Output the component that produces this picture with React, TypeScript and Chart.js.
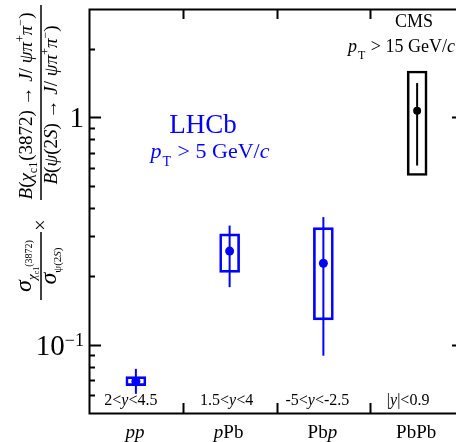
import React, { useEffect, useRef } from "react";
import { Chart, registerables } from "chart.js";

Chart.register(...registerables);

// ---------- data ----------
const categories = ["pp", "pPb", "Pbp", "PbPb"];
const rapidityLabels = ["2<y<4.5", "1.5<y<4", "-5<y<-2.5", "|y|<0.9"];
const experiments = ["LHCb", "LHCb", "LHCb", "CMS"];
const centralValues = [0.069, 0.258, 0.228, 1.07];
const statLow = [0.0607, 0.179, 0.0894, 0.614];
const statHigh = [0.0782, 0.334, 0.364, 1.416];
const systLow = [0.066, 0.208, 0.1285, 0.555];
const systHigh = [0.0723, 0.307, 0.327, 1.6];
const yMajorTicks = [0.1, 1];
const yMinorTicks = [0.06, 0.07, 0.08, 0.09, 0.2, 0.3, 0.4, 0.5, 0.6, 0.7, 0.8, 0.9, 2];
const yMin = 0.05;
const yMax = 3;

// ---------- style ----------
const FONT = '"Liberation Serif", "Times New Roman", serif';
const BLUE = "#0000ff";
const BLACK = "#000000";
const colorFor = (i: number) => (experiments[i] === "CMS" ? BLACK : BLUE);

type Seg = { t: string; size: number; it?: boolean; dy?: number; dx?: number };

function segFont(s: Seg) {
  return `${s.it ? "italic " : ""}${s.size}px ${FONT}`;
}
function measureSegs(ctx: CanvasRenderingContext2D, segs: Seg[]) {
  let w = 0;
  for (const s of segs) {
    ctx.font = segFont(s);
    w += ctx.measureText(s.t).width + (s.dx || 0);
  }
  return w;
}
function drawSegs(ctx: CanvasRenderingContext2D, segs: Seg[], x: number, y: number, align: "left" | "center" | "right" = "left") {
  const w = measureSegs(ctx, segs);
  let cx = align === "left" ? x : align === "center" ? x - w / 2 : x - w;
  ctx.textAlign = "left";
  ctx.textBaseline = "alphabetic";
  for (const s of segs) {
    ctx.font = segFont(s);
    cx += s.dx || 0;
    ctx.fillText(s.t, cx, y + (s.dy || 0));
    cx += ctx.measureText(s.t).width;
  }
  return w;
}

function italicY(label: string, size: number): Seg[] {
  const parts = label.split("y");
  const segs: Seg[] = [];
  parts.forEach((p, i) => {
    if (p) segs.push({ t: p, size });
    if (i < parts.length - 1) segs.push({ t: "y", size, it: true });
  });
  return segs;
}
function categorySegs(label: string, size: number): Seg[] {
  return label
    .split(/(Pb|p)/)
    .filter((p) => p)
    .map((p) => ({ t: p, size, it: p === "p" }));
}

const framePlugin = {
  id: "rootFrame",
  afterDraw(chart: any) {
    const ctx: CanvasRenderingContext2D = chart.ctx;
    const { left, right, top, bottom } = chart.chartArea;
    const ys = chart.scales.y;
    const xs = chart.scales.x;
    ctx.save();
    ctx.strokeStyle = BLACK;
    ctx.fillStyle = BLACK;
    ctx.lineWidth = 2;
    ctx.strokeRect(left + 0.5, top + 0.5, right - left, bottom - top);

    // y ticks (inward, both sides)
    const drawYTick = (v: number, len: number) => {
      const py = Math.round(ys.getPixelForValue(v)) + 0.5;
      ctx.beginPath();
      ctx.moveTo(left, py);
      ctx.lineTo(left + len, py);
      ctx.moveTo(right, py);
      ctx.lineTo(right - len, py);
      ctx.stroke();
    };
    yMajorTicks.forEach((v) => drawYTick(v, 12));
    yMinorTicks.forEach((v) => drawYTick(v, 6));

    // x ticks at category boundaries
    for (let i = 0; i < categories.length - 1; i++) {
      const px = Math.round((xs.getPixelForValue(i) + xs.getPixelForValue(i + 1)) / 2) + 0.5;
      ctx.beginPath();
      ctx.moveTo(px, top);
      ctx.lineTo(px, top + 10);
      ctx.moveTo(px, bottom);
      ctx.lineTo(px, bottom - 10);
      ctx.stroke();
    }

    // y tick labels
    const y1 = ys.getPixelForValue(1);
    drawSegs(ctx, [{ t: "1", size: 29 }], 84, y1 + 10, "right");
    const y01 = ys.getPixelForValue(0.1);
    drawSegs(
      ctx,
      [
        { t: "10", size: 29 },
        { t: "\u22121", size: 18, dy: -9 },
      ],
      84,
      y01 + 10,
      "right"
    );

    // category + rapidity labels
    categories.forEach((c, i) => {
      const px = xs.getPixelForValue(i);
      drawSegs(ctx, categorySegs(c, 19), px - 1, 438, "center");
    });
    const rapOffsets = [-5, -3, -6, -9];
    rapidityLabels.forEach((r, i) => {
      const px = xs.getPixelForValue(i);
      drawSegs(ctx, italicY(r, 16), px + rapOffsets[i], 405, "center");
    });

    // LHCb annotation
    ctx.fillStyle = BLUE;
    drawSegs(ctx, [{ t: "LHCb", size: 27 }], 203, 133, "center");
    drawSegs(
      ctx,
      [
        { t: "p", size: 22, it: true },
        { t: "T", size: 14, dy: 8, dx: 1 },
        { t: " > 5 GeV/", size: 22, dx: 1 },
        { t: "c", size: 22, it: true },
      ],
      210,
      158,
      "center"
    );

    // CMS annotation
    ctx.fillStyle = BLACK;
    drawSegs(ctx, [{ t: "CMS", size: 18 }], 414, 27, "center");
    drawSegs(
      ctx,
      [
        { t: "p", size: 18, it: true },
        { t: "T", size: 12, dy: 7, dx: 1 },
        { t: " > 15 GeV/", size: 18, dx: 1 },
        { t: "c", size: 18, it: true },
      ],
      455,
      52,
      "right"
    );

    // y-axis title (rotated)
    ctx.save();
    ctx.rotate(-Math.PI / 2);
    // in rotated frame: u = -screenY, v = screenX
    const num2: Seg[] = [
      { t: "B", size: 19, it: true },
      { t: "(", size: 19 },
      { t: "\u03c7", size: 19, it: true },
      { t: "c1", size: 12, dy: 5 },
      { t: "(3872) \u2192 ", size: 19, dx: 1 },
      { t: "J", size: 19, it: true },
      { t: "/ ", size: 19 },
      { t: "\u03c8\u03c0", size: 19, it: true },
      { t: "+", size: 12, dy: -8 },
      { t: "\u03c0", size: 19, it: true },
      { t: "\u2212", size: 12, dy: -8 },
      { t: ")", size: 19 },
    ];
    const den2: Seg[] = [
      { t: "B", size: 19, it: true },
      { t: "(", size: 19 },
      { t: "\u03c8", size: 19, it: true },
      { t: "(2", size: 19 },
      { t: "S", size: 19, it: true },
      { t: ") \u2192 ", size: 19 },
      { t: "J", size: 19, it: true },
      { t: "/ ", size: 19 },
      { t: "\u03c8\u03c0", size: 19, it: true },
      { t: "+", size: 12, dy: -8 },
      { t: "\u03c0", size: 19, it: true },
      { t: "\u2212", size: 12, dy: -8 },
      { t: ")", size: 19 },
    ];
    const c2 = -106;
    drawSegs(ctx, num2, c2, 32, "center");
    drawSegs(ctx, den2, c2 + 1, 57, "center");
    ctx.lineWidth = 1.5;
    ctx.beginPath();
    ctx.moveTo(-5, 41);
    ctx.lineTo(-200, 41);
    ctx.stroke();

    drawSegs(ctx, [{ t: "\u00d7", size: 20 }], -225, 47, "center");

    const num1: Seg[] = [
      { t: "\u03c3", size: 24, it: true },
      { t: "\u03c7", size: 13, it: true, dy: 5 },
      { t: "c1", size: 8, dy: 8 },
      { t: "(3872)", size: 10, dy: 1 },
    ];
    const den1: Seg[] = [
      { t: "\u03c3", size: 24, it: true },
      { t: "\u03c8(2", size: 11, dy: 5 },
      { t: "S", size: 11, it: true, dy: 5 },
      { t: ")", size: 11, dy: 5 },
    ];
    const c1 = -266;
    drawSegs(ctx, num1, c1, 31, "center");
    drawSegs(ctx, den1, c1, 56, "center");
    ctx.beginPath();
    ctx.moveTo(-232, 41);
    ctx.lineTo(-300, 41);
    ctx.stroke();
    ctx.restore();

    ctx.restore();
  },
};

export default function App() {
  const canvasRef = useRef<HTMLCanvasElement | null>(null);

  useEffect(() => {
    document.body.style.margin = "0";
    const canvas = canvasRef.current;
    if (!canvas) return;

    const errorPoints: any[] = [];
    categories.forEach((c, i) => {
      errorPoints.push({ x: c, y: statLow[i] });
      errorPoints.push({ x: c, y: statHigh[i] });
      errorPoints.push({ x: c, y: null });
    });

    const chart = new Chart(canvas, {
      type: "bar",
      data: {
        labels: categories,
        datasets: [
          {
            type: "line",
            label: "central",
            data: centralValues,
            showLine: false,
            pointRadius: categories.map((_, i) => (experiments[i] === "CMS" ? 4 : 4.5)),
            pointBackgroundColor: categories.map((_, i) => colorFor(i)),
            pointBorderWidth: 0,
            order: 0,
          } as any,
          {
            type: "line",
            label: "stat",
            data: errorPoints,
            spanGaps: false,
            pointRadius: 0,
            borderWidth: 2,
            borderColor: BLUE,
            segment: {
              borderColor: (sctx: any) => colorFor(Math.round(sctx.p0.parsed.x)),
            },
            order: 1,
          } as any,
          {
            type: "bar",
            label: "syst",
            data: categories.map((_, i) => [systLow[i], systHigh[i]]),
            backgroundColor: "rgba(0,0,0,0)",
            borderColor: categories.map((_, i) => colorFor(i)),
            borderWidth: 2,
            borderSkipped: false,
            barThickness: 20,
            order: 2,
          } as any,
        ],
      },
      options: {
        responsive: false,
        maintainAspectRatio: false,
        animation: false,
        layout: { padding: { left: 89, top: 9, right: 6, bottom: 29 } },
        plugins: { legend: { display: false }, tooltip: { enabled: false } },
        scales: {
          x: { type: "category", display: false, offset: true, grid: { display: false } },
          y: { type: "logarithmic", display: false, min: yMin, max: yMax },
        },
      },
      plugins: [framePlugin],
    });
    return () => chart.destroy();
  }, []);

  return (
    <div style={{ width: 456, height: 442, overflow: "hidden", position: "relative", background: "#fff" }}>
      <canvas ref={canvasRef} width={470} height={442} style={{ display: "block", width: 470, height: 442 }} />
    </div>
  );
}
